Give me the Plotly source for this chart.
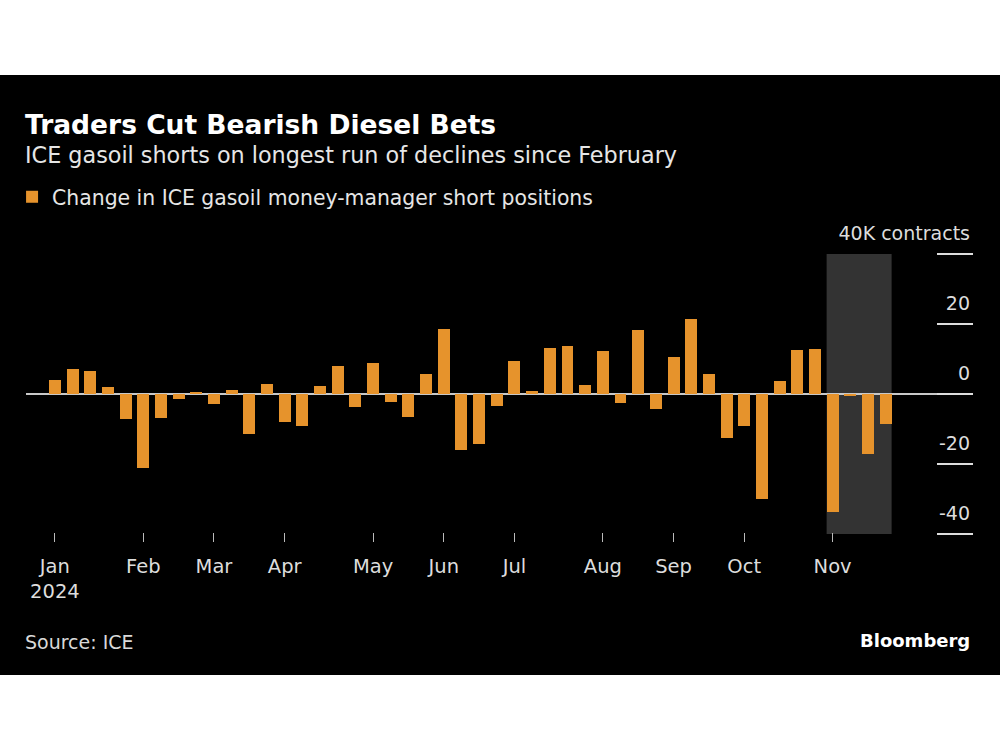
import pandas as pd
import plotly.graph_objects as go

# ---------------- data ----------------
weeks = pd.date_range("2024-01-02", periods=48, freq="7D")
changes = [4.1, 7.2, 6.7, 1.9, -7.0, -21.1, -6.8, -1.4, 0.7, -2.8, 1.2, -11.3,
           2.9, -8.1, -9.1, 2.2, 7.9, -3.8, 9.0, -2.3, -6.6, 5.8, 18.6, -16.0,
           -14.4, -3.5, 9.4, 0.8, 13.2, 13.6, 2.6, 12.2, -2.6, 18.2, -4.3, 10.7,
           21.5, 5.6, -12.5, -9.2, -29.9, 3.8, 12.6, 13.0, -33.8, -0.3, -17.1, -8.7]
month_ticks = ["2024-01-02", "2024-02-06", "2024-03-05", "2024-04-02", "2024-05-07",
               "2024-06-04", "2024-07-02", "2024-08-06", "2024-09-03", "2024-10-01",
               "2024-11-05"]
month_labels = ["Jan<br>2024", "Feb", "Mar", "Apr", "May", "Jun", "Jul", "Aug",
                "Sep", "Oct", "Nov"]
y_tickvals = [-40, -20, 0, 20, 40]
y_ticktext = ["-40", "-20", "0", "20", "40K contracts"]
highlight_start = "2024-11-05"
highlight_end = "2024-11-26"

# ---------------- layout geometry ----------------
W, H = 1000, 750
SCALE = 3.5            # px per unit
Y_TOP = 52             # range top (room for top label)
L, R, B = 22, 27, 208
T = int(round(254 - (Y_TOP - 40) * SCALE))
PW, PH = W - L - R, H - T - B

def px(xp):
    return (xp - L) / PW

def py(yp):
    return (H - B - yp) / PH

FONT = "DejaVu Sans, Verdana, sans-serif"
ORANGE = "#E6932C"
DAY = 86400000
bar_w = 4.73 * DAY

fig = go.Figure()
fig.add_trace(go.Bar(
    x=weeks, y=changes, width=bar_w, marker=dict(color=ORANGE, line=dict(width=0)),
    name="Change in ICE gasoil money-manager short positions",
    hoverinfo="skip",
))

hs = pd.Timestamp(highlight_start) - pd.Timedelta(days=2.37)
he = pd.Timestamp(highlight_end) + pd.Timedelta(days=2.37)

shapes = [
    dict(type="rect", xref="x", yref="y", x0=hs, x1=he, y0=-40, y1=40,
         fillcolor="#333333", line=dict(width=0), layer="below"),
    # white bands above and below the black card
    dict(type="rect", xref="paper", yref="paper", x0=px(-5), x1=px(1005),
         y0=py(75), y1=py(-5), fillcolor="white", line=dict(width=0), layer="above"),
    dict(type="rect", xref="paper", yref="paper", x0=px(-5), x1=px(1005),
         y0=py(755), y1=py(675), fillcolor="white", line=dict(width=0), layer="above"),
]

annotations = [
    dict(text="<b>Traders Cut Bearish Diesel Bets</b>", x=px(19), y=py(124),
         xref="paper", yref="paper", xanchor="left", yanchor="middle", showarrow=False,
         font=dict(family=FONT, size=26.5, color="white")),
    dict(text="ICE gasoil shorts on longest run of declines since February", x=px(19), y=py(155),
         xref="paper", yref="paper", xanchor="left", yanchor="middle", showarrow=False,
         font=dict(family=FONT, size=22.3, color="#e6e6e6")),
    dict(text="Source: ICE", x=px(19), y=py(642),
         xref="paper", yref="paper", xanchor="left", yanchor="middle", showarrow=False,
         font=dict(family=FONT, size=19, color="#d9d9d9")),
    dict(text="<b>Bloomberg</b>", x=px(972), y=py(640),
         xref="paper", yref="paper", xanchor="right", yanchor="middle", showarrow=False,
         font=dict(family=FONT, size=18, color="white")),
]

fig.update_layout(
    width=W, height=H,
    margin=dict(l=L, r=R, t=T, b=B, pad=0),
    paper_bgcolor="black", plot_bgcolor="black",
    font=dict(family=FONT, color="#dddddd"),
    showlegend=True,
    legend=dict(x=px(8), y=py(197), xanchor="left", yanchor="middle",
                orientation="h", bgcolor="rgba(0,0,0,0)",
                font=dict(family=FONT, size=20.4, color="#e6e6e6"),
                itemclick=False),
    bargap=0,
    shapes=shapes,
    annotations=annotations,
    xaxis=dict(
        type="date",
        range=[pd.Timestamp("2024-01-02") - pd.Timedelta(days=11.44),
               pd.Timestamp("2024-01-02") + pd.Timedelta(days=363.6)],
        tickvals=month_ticks, ticktext=month_labels,
        ticks="inside", ticklen=9, tickwidth=1, tickcolor="#bbbbbb",
        tickfont=dict(family=FONT, size=19.5, color="#dddddd"),
        showgrid=False, zeroline=False, showline=False,
        ticklabelstandoff=10,
    ),
    yaxis=dict(
        side="right",
        range=[Y_TOP - PH / SCALE, Y_TOP],
        tickvals=y_tickvals, ticktext=y_ticktext,
        ticks="inside", ticklen=36, tickwidth=1.5, tickcolor="#dddddd",
        ticklabelposition="inside top",
        ticklabelshift=-7,
        tickfont=dict(family=FONT, size=19, color="#dddddd"),
        showgrid=False, zeroline=True, zerolinecolor="#c8c8c8", zerolinewidth=1.5,
        showline=False,
    ),
)

fig.write_html("out.html", config={"displayModeBar": False},
               post_script="document.body.style.margin='0';")
